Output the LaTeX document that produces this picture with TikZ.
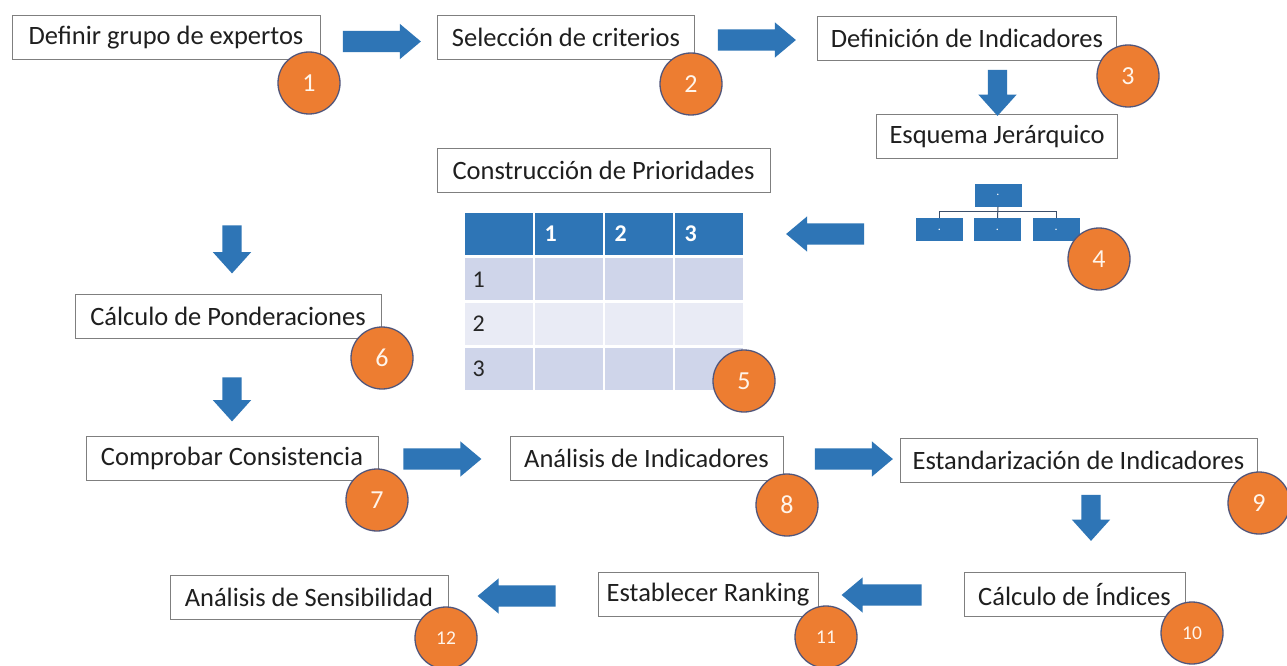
\documentclass[tikz,border=0pt]{standalone}
\usepackage{fontspec}
\setmainfont{Carlito}
\usetikzlibrary{shapes.arrows}
\definecolor{ablue}{HTML}{2E75B6}
\definecolor{corange}{HTML}{ED7D31}
\definecolor{cedge}{HTML}{52567A}
\definecolor{rowA}{HTML}{CFD5EA}
\definecolor{rowB}{HTML}{E9EBF5}
\definecolor{boxedge}{HTML}{7F7F7F}
\definecolor{hline}{HTML}{3B4F6B}
\begin{document}
\begin{tikzpicture}[x=1pt,y=-1pt,
  stepbox/.style={draw=boxedge, line width=0.9pt, fill=white, inner sep=0pt,
    font=\fontsize{26.5}{30}\selectfont, text=black!88, minimum height=44pt},
  badge/.style={circle, fill=corange, draw=cedge, line width=1.3pt, minimum size=62pt,
    inner sep=0pt, text=white!92!orange, font=\fontsize{26}{28}\selectfont},
  smallbadge/.style={badge, font=\fontsize{19.5}{22}\selectfont},
  harrow/.style={single arrow, fill=ablue, draw=none, inner xsep=0pt, inner ysep=10.5pt,
    single arrow head extend=7pt, single arrow tip angle=80, minimum height=78pt},
  larrow/.style={harrow, shape border rotate=180},
  varrow/.style={single arrow, fill=ablue, draw=none, inner xsep=0pt, inner ysep=9.5pt,
    single arrow head extend=9.5pt, single arrow tip angle=84, minimum height=46pt,
    rotate=-90},
  hbox/.style={fill=ablue, draw=none, inner sep=0pt, minimum width=47pt, minimum height=23pt,
    text=white, font=\fontsize{12}{12}\selectfont},
  hconn/.style={draw=hline, line width=1pt},
  tabhead/.style={anchor=west, text=white, font=\fontsize{24}{28}\selectfont\bfseries},
  tabrow/.style={anchor=west, text=black!85, font=\fontsize{24}{28}\selectfont}
]
\useasboundingbox (0,0) rectangle (1287,666);
\fill[white] (0,0) rectangle (1287,666);

% boxes
\node[stepbox, minimum width=308pt] (b1) at (166,37.5) {Definir grupo de expertos};
\node[stepbox, minimum width=257pt] (b2) at (566,37) {Selección de criterios};
\node[stepbox, minimum width=299pt] (b3) at (967,38) {Definición de Indicadores};
\node[stepbox, minimum width=241pt] (b4) at (997,136.5) {Esquema Jerárquico};
\node[stepbox, minimum width=333pt] (b5) at (603.5,170) {Construcción de Prioridades};
\node[stepbox, minimum width=306pt] (b6) at (228,316.5) {Cálculo de Ponderaciones};
\node[stepbox, minimum width=292pt] (b7) at (232,458.5) {Comprobar Consistencia};
\node[stepbox, minimum width=273pt] (b8) at (646.5,458.5) {Análisis de Indicadores};
\node[stepbox, minimum width=357pt] (b9) at (1078.5,460.5) {Estandarización de Indicadores};
\node[stepbox, minimum width=221pt] (b10) at (1074.5,594.5) {Cálculo de Índices};
\node[stepbox, minimum width=220pt] (b11) at (708,594.5) {Establecer Ranking};
\node[stepbox, minimum width=278pt] (b12) at (309,597.5) {Análisis de Sensibilidad};

% block arrows
\node[harrow] (a1) at (375.5,41.5) {};
\node[harrow] (a2) at (750.5,40) {};
\node[varrow] (a3) at (997.5,87.5) {};
\node[larrow] (a4) at (831.5,234) {};
\node[varrow, minimum height=48pt] (a5) at (232,244) {};
\node[varrow, minimum height=44pt] (a6) at (232,394) {};
\node[harrow] (a7) at (436,459) {};
\node[harrow] (a8) at (847.5,459) {};
\node[varrow] (a9) at (1091,512.5) {};
\node[larrow, minimum height=80pt] (a10) at (888,595) {};
\node[larrow] (a11) at (523,596) {};

% hierarchy icon
\node[hbox] (h0) at (998,195) {.};
\node[hbox] (h1) at (939.5,229.5) {.};
\node[hbox] (h2) at (997.5,229.5) {.};
\node[hbox] (h3) at (1056,229.5) {.};
\draw[hconn] (h0.south) -- (h2.north);
\draw[hconn] (h1.north) -- ++(0,-6) -| (h3.north);

% table
\foreach \xa/\xb in {465/533,535/603,605/673,675/743} {
  \fill[ablue] (\xa,213) rectangle (\xb,255);
  \fill[rowA] (\xa,258) rectangle (\xb,300);
  \fill[rowB] (\xa,303) rectangle (\xb,345);
  \fill[rowA] (\xa,348) rectangle (\xb,390);
}
\node[tabhead] (th1) at (541,234) {1};
\node[tabhead] (th2) at (611,234) {2};
\node[tabhead] (th3) at (681,234) {3};
\node[tabrow] (tr1) at (469,280) {1};
\node[tabrow] (tr2) at (469,324) {2};
\node[tabrow] (tr3) at (469,369) {3};

% numbered badges
\node[badge] (c1) at (309,83) {1};
\node[badge] (c2) at (691,84) {2};
\node[badge] (c3) at (1128,76) {3};
\node[badge] (c4) at (1099,259) {4};
\node[badge] (c5) at (744,381) {5};
\node[badge] (c6) at (382,358) {6};
\node[badge] (c7) at (377,500) {7};
\node[badge] (c8) at (787,505) {8};
\node[badge] (c9) at (1259,503) {9};
\node[smallbadge] (c10) at (1192,633) {10};
\node[smallbadge] (c11) at (826,637) {11};
\node[smallbadge] (c12) at (446,638) {12};
\end{tikzpicture}
\end{document}
